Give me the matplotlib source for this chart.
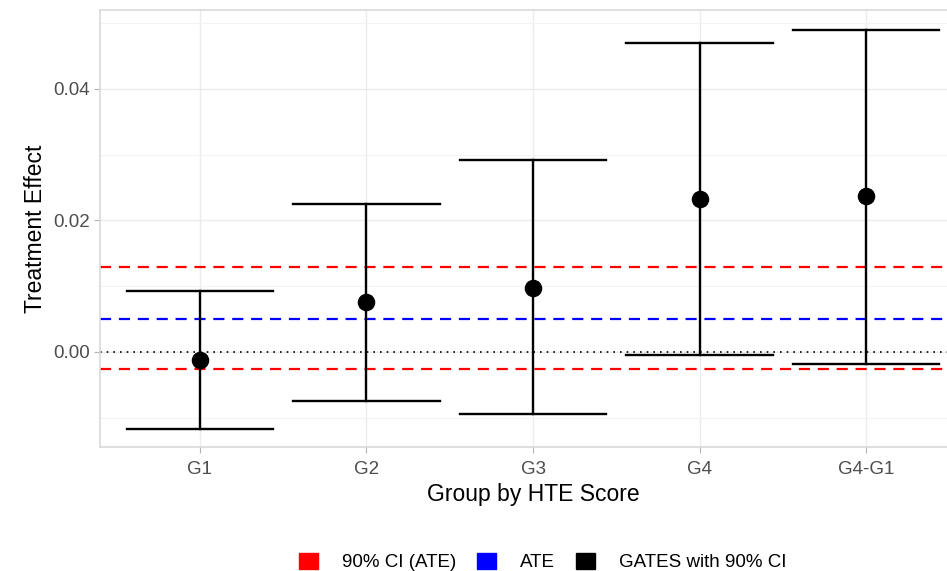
import numpy as np
import matplotlib
matplotlib.use("Agg")
import matplotlib.pyplot as plt
from matplotlib.patches import Patch

plt.rcParams['font.family'] = ['Liberation Sans', 'DejaVu Sans']

groups = ["G1", "G2", "G3", "G4", "G4-G1"]
gates = [-0.0012, 0.0076, 0.0097, 0.0233, 0.0237]
upper = [0.0093, 0.0225, 0.0292, 0.0470, 0.0490]
lower = [-0.0117, -0.0075, -0.0094, -0.0005, -0.0018]
ate = 0.0050
ate_ci = [-0.0026, 0.0129]

fig = plt.figure(figsize=(9.47, 5.71), dpi=100)
# panel runs past the right edge, as in the reference
ax = fig.add_axes([100 / 947, 1 - 447 / 571, 866 / 947, 437 / 571])

x = np.arange(1, len(groups) + 1)
ax.set_xlim(0.4, 5.6)
ax.set_ylim(-0.01445, 0.052)

ax.set_yticks([0.0, 0.02, 0.04])
ax.set_yticks([-0.01, 0.01, 0.03, 0.05], minor=True)
ax.set_yticklabels(["0.00", "0.02", "0.04"])
ax.set_xticks(x)
ax.set_xticklabels(groups)
ax.grid(True, which="major", color="#EBEBEB", lw=1.0, zorder=0)
ax.grid(True, which="minor", axis="y", color="#F3F3F3", lw=0.8, zorder=0)
ax.tick_params(which="major", colors="#B3B3B3", labelcolor="#4D4D4D",
               labelsize=13.5, length=4, width=0.8, pad=3)
ax.tick_params(axis="x", pad=6)
ax.tick_params(which="minor", length=0)
for s in ax.spines.values():
    s.set_color("#D9D9D9")
    s.set_linewidth(1.2)

ax.axhline(0, color="black", ls=(0, (1, 3)), lw=1.2, zorder=2)
ax.axhline(ate, color="blue", ls=(0, (5, 3.5)), lw=1.6, zorder=2)
for v in ate_ci:
    ax.axhline(v, color="red", ls=(0, (5, 3.5)), lw=1.6, zorder=2)

for xi, lo, hi in zip(x, lower, upper):
    ax.plot([xi, xi], [lo, hi], color="black", lw=1.7, zorder=3)
    ax.plot([xi - 0.44, xi + 0.44], [lo, lo], color="black", lw=1.7, zorder=3)
    ax.plot([xi - 0.44, xi + 0.44], [hi, hi], color="black", lw=1.7, zorder=3)
ax.scatter(x, gates, s=135, color="black", zorder=4)

ax.set_ylabel("Treatment Effect", fontsize=16.5, labelpad=5)
ax.set_xlabel("Group by HTE Score", fontsize=16.5, labelpad=4)

handles = [Patch(color="red"), Patch(color="blue"), Patch(color="black")]
labels = ["90% CI (ATE)", "ATE", "GATES with 90% CI"]
fig.legend(handles, labels, loc="center", bbox_to_anchor=(543 / 947, 1 - 562 / 571),
           ncol=3, frameon=False, fontsize=13.5, handlelength=1.0, handleheight=1.0,
           columnspacing=1.1, handletextpad=1.3)

fig.savefig("out.png", dpi=100)
